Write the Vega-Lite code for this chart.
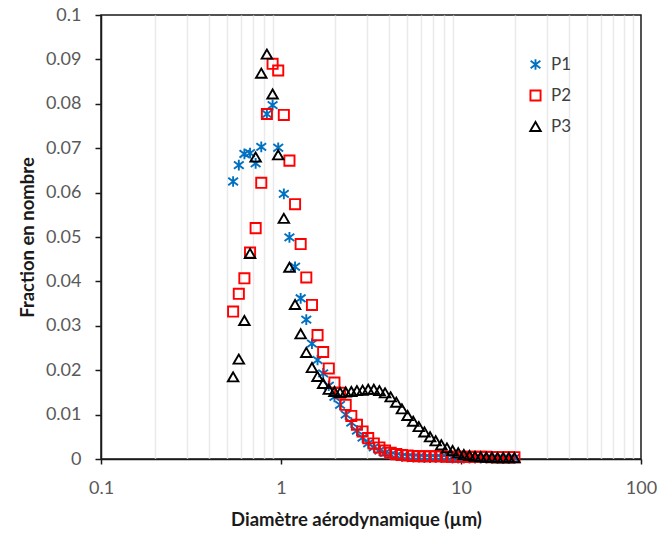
{
  "$schema": "https://vega.github.io/schema/vega-lite/v6.json",
  "autosize": {"type": "none"},
  "width": 540,
  "height": 444,
  "padding": {"left": 101, "top": 15, "right": 21, "bottom": 76},
  "background": "white",
  "config": {
    "font": "Lato",
    "view": {"stroke": "#1a1a1a", "strokeWidth": 1.5},
    "axis": {
      "domainColor": "#1a1a1a",
      "domainWidth": 1.5,
      "tickColor": "#1a1a1a",
      "tickWidth": 1.5,
      "tickSize": 5,
      "labelFont": "Lato",
      "labelFontSize": 18,
      "labelColor": "#595959",
      "titleFont": "Lato",
      "titleFontSize": 18.5,
      "titleFontWeight": "bold",
      "titleColor": "#1a1a1a"
    }
  },
  "data": {
    "values": [
      {"d": 0.542, "s": "P1", "f": 0.0625},
      {"d": 0.583, "s": "P1", "f": 0.0662},
      {"d": 0.626, "s": "P1", "f": 0.0687},
      {"d": 0.673, "s": "P1", "f": 0.0689},
      {"d": 0.723, "s": "P1", "f": 0.0666},
      {"d": 0.777, "s": "P1", "f": 0.0703},
      {"d": 0.835, "s": "P1", "f": 0.0777},
      {"d": 0.898, "s": "P1", "f": 0.0797},
      {"d": 0.965, "s": "P1", "f": 0.0701},
      {"d": 1.037, "s": "P1", "f": 0.0597},
      {"d": 1.114, "s": "P1", "f": 0.0499},
      {"d": 1.197, "s": "P1", "f": 0.0433},
      {"d": 1.286, "s": "P1", "f": 0.0362},
      {"d": 1.382, "s": "P1", "f": 0.0314},
      {"d": 1.486, "s": "P1", "f": 0.026},
      {"d": 1.596, "s": "P1", "f": 0.0223},
      {"d": 1.715, "s": "P1", "f": 0.0193},
      {"d": 1.843, "s": "P1", "f": 0.0165},
      {"d": 1.981, "s": "P1", "f": 0.014},
      {"d": 2.129, "s": "P1", "f": 0.0122},
      {"d": 2.288, "s": "P1", "f": 0.01},
      {"d": 2.458, "s": "P1", "f": 0.0082},
      {"d": 2.642, "s": "P1", "f": 0.0064},
      {"d": 2.839, "s": "P1", "f": 0.0048},
      {"d": 3.051, "s": "P1", "f": 0.0035},
      {"d": 3.278, "s": "P1", "f": 0.0026},
      {"d": 3.523, "s": "P1", "f": 0.0019},
      {"d": 3.786, "s": "P1", "f": 0.0014},
      {"d": 4.068, "s": "P1", "f": 0.001},
      {"d": 4.371, "s": "P1", "f": 0.0008},
      {"d": 4.698, "s": "P1", "f": 0.0006},
      {"d": 5.048, "s": "P1", "f": 0.0005},
      {"d": 5.425, "s": "P1", "f": 0.0004},
      {"d": 5.829, "s": "P1", "f": 0.0004},
      {"d": 6.264, "s": "P1", "f": 0.0003},
      {"d": 6.732, "s": "P1", "f": 0.0003},
      {"d": 7.234, "s": "P1", "f": 0.0003},
      {"d": 7.774, "s": "P1", "f": 0.0003},
      {"d": 8.354, "s": "P1", "f": 0.0003},
      {"d": 8.977, "s": "P1", "f": 0.0002},
      {"d": 9.647, "s": "P1", "f": 0.0002},
      {"d": 10.37, "s": "P1", "f": 0.0002},
      {"d": 11.14, "s": "P1", "f": 0.0002},
      {"d": 11.97, "s": "P1", "f": 0.0002},
      {"d": 12.86, "s": "P1", "f": 0.0002},
      {"d": 13.82, "s": "P1", "f": 0.0002},
      {"d": 14.86, "s": "P1", "f": 0.0002},
      {"d": 15.96, "s": "P1", "f": 0.0002},
      {"d": 17.15, "s": "P1", "f": 0.0002},
      {"d": 18.43, "s": "P1", "f": 0.0002},
      {"d": 19.81, "s": "P1", "f": 0.0002},
      {"d": 0.542, "s": "P2", "f": 0.0332},
      {"d": 0.583, "s": "P2", "f": 0.0372},
      {"d": 0.626, "s": "P2", "f": 0.0407},
      {"d": 0.673, "s": "P2", "f": 0.0465},
      {"d": 0.723, "s": "P2", "f": 0.052},
      {"d": 0.777, "s": "P2", "f": 0.0622},
      {"d": 0.835, "s": "P2", "f": 0.0777},
      {"d": 0.898, "s": "P2", "f": 0.089},
      {"d": 0.965, "s": "P2", "f": 0.0875},
      {"d": 1.037, "s": "P2", "f": 0.0775},
      {"d": 1.114, "s": "P2", "f": 0.0672},
      {"d": 1.197, "s": "P2", "f": 0.0574},
      {"d": 1.286, "s": "P2", "f": 0.0484},
      {"d": 1.382, "s": "P2", "f": 0.0409},
      {"d": 1.486, "s": "P2", "f": 0.0347},
      {"d": 1.596, "s": "P2", "f": 0.0279},
      {"d": 1.715, "s": "P2", "f": 0.0241},
      {"d": 1.843, "s": "P2", "f": 0.0204},
      {"d": 1.981, "s": "P2", "f": 0.0172},
      {"d": 2.129, "s": "P2", "f": 0.0149},
      {"d": 2.288, "s": "P2", "f": 0.0122},
      {"d": 2.458, "s": "P2", "f": 0.0097},
      {"d": 2.642, "s": "P2", "f": 0.0077},
      {"d": 2.839, "s": "P2", "f": 0.0062},
      {"d": 3.051, "s": "P2", "f": 0.0047},
      {"d": 3.278, "s": "P2", "f": 0.0035},
      {"d": 3.523, "s": "P2", "f": 0.0026},
      {"d": 3.786, "s": "P2", "f": 0.0019},
      {"d": 4.068, "s": "P2", "f": 0.0014},
      {"d": 4.371, "s": "P2", "f": 0.0011},
      {"d": 4.698, "s": "P2", "f": 0.0009},
      {"d": 5.048, "s": "P2", "f": 0.0008},
      {"d": 5.425, "s": "P2", "f": 0.0007},
      {"d": 5.829, "s": "P2", "f": 0.0006},
      {"d": 6.264, "s": "P2", "f": 0.0006},
      {"d": 6.732, "s": "P2", "f": 0.0006},
      {"d": 7.234, "s": "P2", "f": 0.0006},
      {"d": 7.774, "s": "P2", "f": 0.0006},
      {"d": 8.354, "s": "P2", "f": 0.0005},
      {"d": 8.977, "s": "P2", "f": 0.0005},
      {"d": 9.647, "s": "P2", "f": 0.0005},
      {"d": 10.37, "s": "P2", "f": 0.0005},
      {"d": 11.14, "s": "P2", "f": 0.0005},
      {"d": 11.97, "s": "P2", "f": 0.0005},
      {"d": 12.86, "s": "P2", "f": 0.0005},
      {"d": 13.82, "s": "P2", "f": 0.0005},
      {"d": 14.86, "s": "P2", "f": 0.0004},
      {"d": 15.96, "s": "P2", "f": 0.0004},
      {"d": 17.15, "s": "P2", "f": 0.0004},
      {"d": 18.43, "s": "P2", "f": 0.0004},
      {"d": 19.81, "s": "P2", "f": 0.0004},
      {"d": 0.542, "s": "P3", "f": 0.0185},
      {"d": 0.583, "s": "P3", "f": 0.0225},
      {"d": 0.626, "s": "P3", "f": 0.0312},
      {"d": 0.673, "s": "P3", "f": 0.0463},
      {"d": 0.723, "s": "P3", "f": 0.068},
      {"d": 0.777, "s": "P3", "f": 0.0869},
      {"d": 0.835, "s": "P3", "f": 0.0912},
      {"d": 0.898, "s": "P3", "f": 0.0822},
      {"d": 0.965, "s": "P3", "f": 0.0685},
      {"d": 1.037, "s": "P3", "f": 0.0542},
      {"d": 1.114, "s": "P3", "f": 0.0432},
      {"d": 1.197, "s": "P3", "f": 0.0348},
      {"d": 1.286, "s": "P3", "f": 0.0282},
      {"d": 1.382, "s": "P3", "f": 0.024},
      {"d": 1.486, "s": "P3", "f": 0.0206},
      {"d": 1.596, "s": "P3", "f": 0.0186},
      {"d": 1.715, "s": "P3", "f": 0.017},
      {"d": 1.843, "s": "P3", "f": 0.0157},
      {"d": 1.981, "s": "P3", "f": 0.0152},
      {"d": 2.129, "s": "P3", "f": 0.015},
      {"d": 2.288, "s": "P3", "f": 0.0151},
      {"d": 2.458, "s": "P3", "f": 0.0152},
      {"d": 2.642, "s": "P3", "f": 0.0154},
      {"d": 2.839, "s": "P3", "f": 0.0155},
      {"d": 3.051, "s": "P3", "f": 0.0157},
      {"d": 3.278, "s": "P3", "f": 0.0157},
      {"d": 3.523, "s": "P3", "f": 0.0154},
      {"d": 3.786, "s": "P3", "f": 0.0149},
      {"d": 4.068, "s": "P3", "f": 0.014},
      {"d": 4.371, "s": "P3", "f": 0.0128},
      {"d": 4.698, "s": "P3", "f": 0.0113},
      {"d": 5.048, "s": "P3", "f": 0.0098},
      {"d": 5.425, "s": "P3", "f": 0.0085},
      {"d": 5.829, "s": "P3", "f": 0.0073},
      {"d": 6.264, "s": "P3", "f": 0.0061},
      {"d": 6.732, "s": "P3", "f": 0.005},
      {"d": 7.234, "s": "P3", "f": 0.0041},
      {"d": 7.774, "s": "P3", "f": 0.0032},
      {"d": 8.354, "s": "P3", "f": 0.0025},
      {"d": 8.977, "s": "P3", "f": 0.0019},
      {"d": 9.647, "s": "P3", "f": 0.0014},
      {"d": 10.37, "s": "P3", "f": 0.001},
      {"d": 11.14, "s": "P3", "f": 0.0008},
      {"d": 11.97, "s": "P3", "f": 0.0006},
      {"d": 12.86, "s": "P3", "f": 0.0005},
      {"d": 13.82, "s": "P3", "f": 0.0004},
      {"d": 14.86, "s": "P3", "f": 0.0004},
      {"d": 15.96, "s": "P3", "f": 0.0003},
      {"d": 17.15, "s": "P3", "f": 0.0003},
      {"d": 18.43, "s": "P3", "f": 0.0003},
      {"d": 19.81, "s": "P3", "f": 0.0003}
    ]
  },
  "mark": {"type": "point", "filled": false, "strokeWidth": 1.9, "opacity": 1},
  "encoding": {
    "x": {
      "field": "d",
      "type": "quantitative",
      "scale": {"type": "log", "domain": [0.1, 100], "nice": false},
      "axis": {
        "title": "Diamètre aérodynamique (µm)",
        "titlePadding": 13,
        "titleX": 255,
        "titleAlign": "center",
        "values": [0.1, 0.2, 0.3, 0.4, 0.5, 0.6, 0.7, 0.8, 0.9, 1, 2, 3, 4, 5, 6, 7, 8, 9, 10, 20, 30, 40, 50, 60, 70, 80, 90, 100],
        "labelExpr": "abs(log(datum.value)/LN10 - round(log(datum.value)/LN10)) < 1e-6 ? datum.label : ''",
        "format": "~g",
        "labelOverlap": false,
        "labelPadding": 15,
        "labelFlush": false,
        "grid": true,
        "gridColor": "#EAEAEA",
        "gridWidth": 1.5,
        "gridOpacity": {"condition": {"test": "abs(log(datum.value)/LN10 - round(log(datum.value)/LN10)) < 1e-6", "value": 0}, "value": 1},
        "tickOpacity": {"condition": {"test": "abs(log(datum.value)/LN10 - round(log(datum.value)/LN10)) < 1e-6", "value": 1}, "value": 0}
      }
    },
    "y": {
      "field": "f",
      "type": "quantitative",
      "scale": {"domain": [0, 0.1], "nice": false, "zero": true},
      "axis": {
        "title": "Fraction en nombre",
        "titlePadding": 8,
        "tickSize": 6,
        "values": [0, 0.01, 0.02, 0.03, 0.04, 0.05, 0.06, 0.07, 0.08, 0.09, 0.1],
        "format": "~g",
        "grid": false,
        "labelPadding": 14,
        "labelFlush": false
      }
    },
    "color": {
      "field": "s",
      "type": "nominal",
      "scale": {"domain": ["P1", "P2", "P3"], "range": ["#0070C0", "#FF0000", "#000000"]},
      "legend": {
        "title": null,
        "orient": "none",
        "legendX": 426,
        "legendY": 41,
        "labelFontSize": 17,
        "labelColor": "#404040",
        "labelFont": "Lato",
        "symbolSize": 90,
        "symbolStrokeWidth": 1.9,
        "rowPadding": 12,
        "labelOffset": 7
      }
    },
    "shape": {
      "field": "s",
      "type": "nominal",
      "scale": {"domain": ["P1", "P2", "P3"], "range": ["M-1,-0.75L1,0.75M-1,0.75L1,-0.75M0,-1.1L0,1.1", "square", "triangle-up"]}
    },
    "size": {
      "field": "s",
      "type": "nominal",
      "scale": {"domain": ["P1", "P2", "P3"], "range": [95, 110, 100]},
      "legend": null
    }
  }
}
